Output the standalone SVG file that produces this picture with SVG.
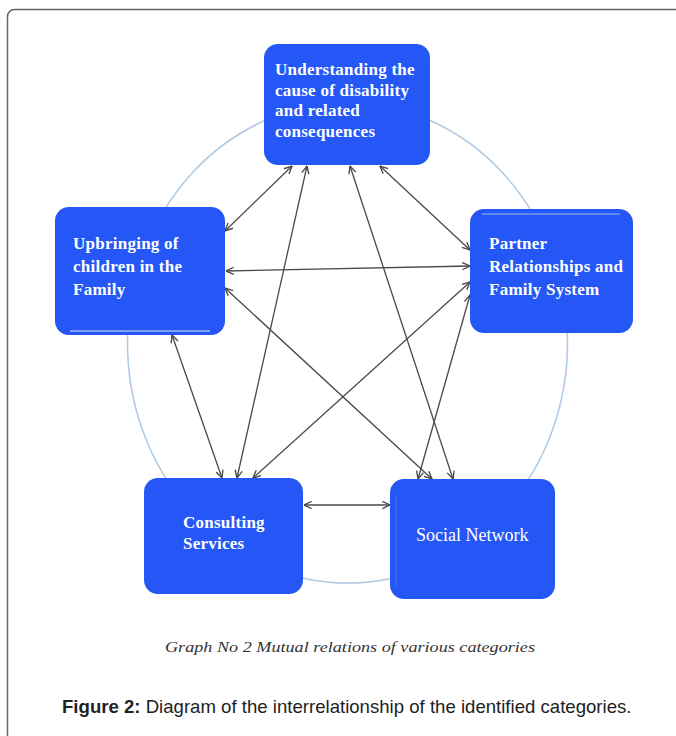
<svg xmlns="http://www.w3.org/2000/svg" width="676" height="736" viewBox="0 0 676 736">
  <style>
    .box { fill: #2457f5; }
    .lbl { font-family: "Liberation Serif", "Times New Roman", serif; font-size: 17px; font-weight: bold; letter-spacing: 0.25px; fill: #ffffff; }
    .lbl-n { font-family: "Liberation Serif", "Times New Roman", serif; font-size: 18px; fill: #ffffff; }
    .link { stroke: #4a4a4a; stroke-width: 1.3; fill: none; marker-start: url(#head); marker-end: url(#head); }
    .caption { font-family: "Liberation Serif", "Times New Roman", serif; font-style: italic; font-size: 15.5px; fill: #333333; }
    .figcap { font-family: "Liberation Sans", Arial, sans-serif; font-size: 18.6px; fill: #222222; }
  </style>
  <defs>
    <marker id="head" viewBox="0 0 10 10" refX="9.5" refY="5" markerWidth="9" markerHeight="9" markerUnits="userSpaceOnUse" orient="auto-start-reverse">
      <path d="M1,1 L9.5,5 L1,9" fill="none" stroke="#4a4a4a" stroke-width="1.5"/>
    </marker>
  </defs>

  <rect width="676" height="736" fill="#ffffff"/>
  <!-- outer frame -->
  <rect x="7.5" y="9.5" width="700" height="760" rx="7" fill="none" stroke="#666666" stroke-width="1.5"/>

  <!-- background ring -->
  <ellipse cx="347.5" cy="343" rx="220" ry="240" fill="none" stroke="#b3cae3" stroke-width="1.6"/>

  <g id="connectors">
    <line class="link" x1="225" y1="231" x2="292" y2="166"/>
    <line class="link" x1="380" y1="166" x2="470" y2="250"/>
    <line class="link" x1="226" y1="271" x2="470" y2="266"/>
    <line class="link" x1="307" y1="166" x2="237" y2="478"/>
    <line class="link" x1="350" y1="166" x2="453" y2="479"/>
    <line class="link" x1="172" y1="335" x2="222" y2="478"/>
    <line class="link" x1="225" y1="288" x2="432" y2="479"/>
    <line class="link" x1="470" y1="282" x2="253" y2="478"/>
    <line class="link" x1="470" y1="295" x2="418" y2="479"/>
    <line class="link" x1="304" y1="505" x2="390" y2="505"/>
  </g>

  <g id="node-understanding">
    <rect class="box" x="264" y="44" width="166" height="121" rx="14"/>
    <text class="lbl" x="275" y="75">Understanding the</text>
    <text class="lbl" x="275" y="96">cause of disability</text>
    <text class="lbl" x="275" y="116">and related</text>
    <text class="lbl" x="275" y="137">consequences</text>
  </g>

  <g id="node-upbringing">
    <rect class="box" x="55" y="207" width="170" height="128" rx="14"/>
    <line x1="70" y1="331" x2="210" y2="331" stroke="#dfe8fb" stroke-width="1"/>
    <text class="lbl" x="73" y="249">Upbringing of</text>
    <text class="lbl" x="73" y="272">children in the</text>
    <text class="lbl" x="73" y="295">Family</text>
  </g>

  <g id="node-partner">
    <rect class="box" x="470" y="209" width="163" height="124" rx="14"/>
    <line x1="482" y1="214" x2="620" y2="214" stroke="#9fb6e6" stroke-width="1"/>
    <text class="lbl" x="489" y="249">Partner</text>
    <text class="lbl" x="489" y="272">Relationships and</text>
    <text class="lbl" x="489" y="295">Family System</text>
  </g>

  <g id="node-consulting">
    <rect class="box" x="144" y="478" width="159" height="116" rx="14"/>
    <text class="lbl" x="183" y="528">Consulting</text>
    <text class="lbl" x="183" y="549">Services</text>
  </g>

  <g id="node-social">
    <rect class="box" x="390" y="479" width="165" height="120" rx="14"/>
    <line x1="396" y1="496" x2="396" y2="586" stroke="#4a75f2" stroke-width="1"/>
    <text class="lbl-n" x="416" y="541">Social Network</text>
  </g>

  <text class="caption" x="165" y="652" textLength="370" lengthAdjust="spacingAndGlyphs">Graph No 2 Mutual relations of various categories</text>

  <text class="figcap" x="62" y="713"><tspan font-weight="bold">Figure 2:</tspan> Diagram of the interrelationship of the identified categories.</text>
</svg>
